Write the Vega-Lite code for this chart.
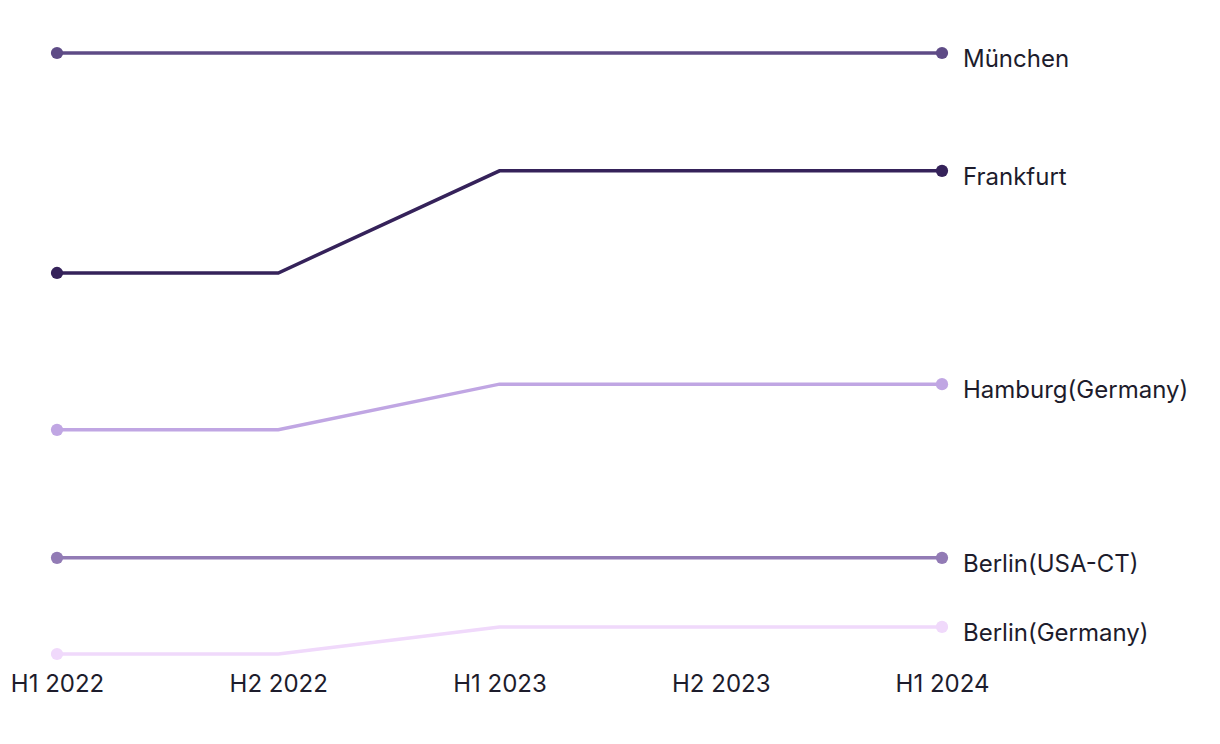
{
  "$schema": "https://vega.github.io/schema/vega-lite/v6.json",
  "autosize": {"type": "none"},
  "width": 885,
  "height": 601,
  "padding": {"left": 57, "top": 53, "right": 278, "bottom": 90},
  "background": "white",
  "config": {
    "view": {"stroke": null},
    "font": "Inter"
  },
  "data": {
    "values": [
      {"city": "München", "period": "H1 2022", "value": 100},
      {"city": "München", "period": "H2 2022", "value": 100},
      {"city": "München", "period": "H1 2023", "value": 100},
      {"city": "München", "period": "H2 2023", "value": 100},
      {"city": "München", "period": "H1 2024", "value": 100},
      {"city": "Frankfurt", "period": "H1 2022", "value": 63.4},
      {"city": "Frankfurt", "period": "H2 2022", "value": 63.4},
      {"city": "Frankfurt", "period": "H1 2023", "value": 80.4},
      {"city": "Frankfurt", "period": "H2 2023", "value": 80.4},
      {"city": "Frankfurt", "period": "H1 2024", "value": 80.4},
      {"city": "Hamburg(Germany)", "period": "H1 2022", "value": 37.3},
      {"city": "Hamburg(Germany)", "period": "H2 2022", "value": 37.3},
      {"city": "Hamburg(Germany)", "period": "H1 2023", "value": 44.9},
      {"city": "Hamburg(Germany)", "period": "H2 2023", "value": 44.9},
      {"city": "Hamburg(Germany)", "period": "H1 2024", "value": 44.9},
      {"city": "Berlin(USA-CT)", "period": "H1 2022", "value": 16.0},
      {"city": "Berlin(USA-CT)", "period": "H2 2022", "value": 16.0},
      {"city": "Berlin(USA-CT)", "period": "H1 2023", "value": 16.0},
      {"city": "Berlin(USA-CT)", "period": "H2 2023", "value": 16.0},
      {"city": "Berlin(USA-CT)", "period": "H1 2024", "value": 16.0},
      {"city": "Berlin(Germany)", "period": "H1 2022", "value": 0},
      {"city": "Berlin(Germany)", "period": "H2 2022", "value": 0},
      {"city": "Berlin(Germany)", "period": "H1 2023", "value": 4.5},
      {"city": "Berlin(Germany)", "period": "H2 2023", "value": 4.5},
      {"city": "Berlin(Germany)", "period": "H1 2024", "value": 4.5}
    ]
  },
  "encoding": {
    "x": {
      "field": "period",
      "type": "ordinal",
      "sort": ["H1 2022", "H2 2022", "H1 2023", "H2 2023", "H1 2024"],
      "scale": {"type": "point", "padding": 0},
      "axis": {
        "title": null,
        "domain": false,
        "ticks": false,
        "labelAngle": 0,
        "labelFontSize": 24,
        "labelColor": "#1d1c2c",
        "labelPadding": 18,
        "labelFont": "Inter"
      }
    },
    "y": {
      "field": "value",
      "type": "quantitative",
      "scale": {"domain": [0, 100], "nice": false, "zero": false},
      "axis": null
    },
    "color": {
      "field": "city",
      "type": "nominal",
      "scale": {
        "domain": ["München", "Frankfurt", "Hamburg(Germany)", "Berlin(USA-CT)", "Berlin(Germany)"],
        "range": ["#5e4b86", "#35225a", "#c0a6e3", "#927bb5", "#f0d9fb"]
      },
      "legend": null
    }
  },
  "layer": [
    {
      "data": {"values": [{"label": "GlobalData"}]},
      "mark": {"type": "text", "fontSize": 44, "fontWeight": "bold", "dx": 110, "font": "Inter"},
      "encoding": {
        "x": {"datum": "H1 2023"},
        "y": {"datum": 46.5},
        "text": {"field": "label"},
        "color": {"value": "#f2f2f2"}
      }
    },
    {
      "mark": {"type": "line", "strokeWidth": 3.5},
      "encoding": {"detail": {"field": "city"}}
    },
    {
      "transform": [{"filter": "datum.period === 'H1 2022' || datum.period === 'H1 2024'"}],
      "mark": {"type": "circle", "size": 150, "opacity": 1}
    },
    {
      "transform": [{"filter": "datum.period === 'H1 2024'"}],
      "mark": {"type": "text", "align": "left", "baseline": "middle", "dx": 21, "dy": 7, "fontSize": 24, "font": "Inter"},
      "encoding": {
        "text": {"field": "city"},
        "color": {"value": "#1d1c2c"}
      }
    }
  ]
}
